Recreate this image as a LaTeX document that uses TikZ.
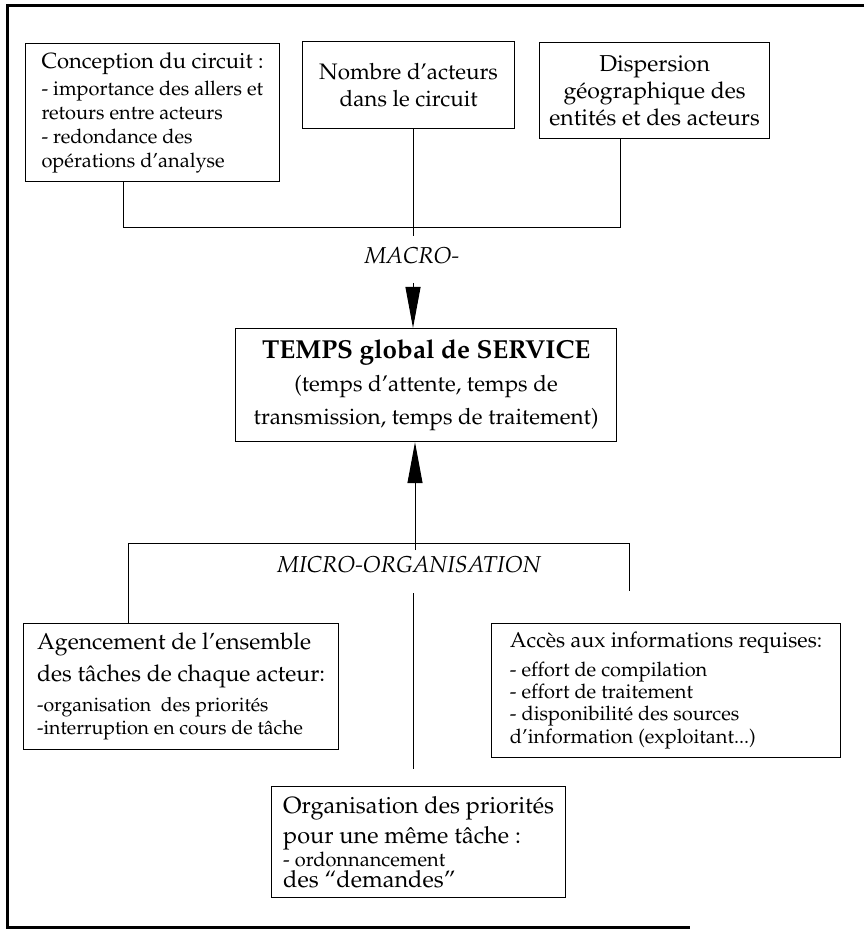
\documentclass[tikz,border=0pt]{standalone}
\usepackage[T1]{fontenc}
\renewcommand{\rmdefault}{ppl}
\usepackage{tikz}
\usetikzlibrary{arrows.meta}
\newcommand{\tl}[1]{\fontsize{#1}{14}\selectfont}
\tikzset{
  cadre/.style  = {line width=1.5pt},
  boite/.style  = {draw, line width=0.6pt, anchor=north west,
                   inner xsep=2.5pt, inner ysep=2pt, align=left},
  boitec/.style = {boite, align=center},
  etiq/.style   = {font=\itshape\fontsize{11.5}{13}\selectfont},
  lien/.style   = {line width=0.5pt},
  fleche/.style = {line width=0.5pt, -{Triangle[length=20.5pt, width=7.5pt]}},
}

\begin{document}
\begin{tikzpicture}[x=0.5pt, y=-0.5pt]
    \useasboundingbox (0,0) rectangle (864,930);
    \draw[cadre] (864,6) -| (7,927) -- (690,927);

    % niveau macro
    \node[boite, minimum width=127pt, minimum height=69pt,
          font=\fontsize{10}{12}\selectfont] (concep) at (25,43)
      {\tl{11}Conception du circuit :\\[1.5pt]
       \tl{10}- importance des allers et\\
       \tl{10}retours entre acteurs\\
       \tl{10}- redondance des\\
       \tl{10}op\'erations d'analyse};
    \node[boitec, minimum width=106pt, minimum height=43.5pt,
          font=\fontsize{11.2}{13.5}\selectfont] (nombre) at (302,41)
      {Nombre d'acteurs\\ dans le circuit};
    \node[boitec, minimum width=115pt, minimum height=48pt,
          font=\fontsize{11.5}{13.5}\selectfont] (disp) at (539,42)
      {Dispersion\\ g\'eographique des\\ entit\'es et des acteurs};

    \node[etiq] (macro) at (412,256) {MACRO-};

    % temps global
    \node[boitec, minimum width=190.5pt, minimum height=56.5pt,
          font=\fontsize{11.2}{16.5}\selectfont] (temps) at (235,328)
      {\bfseries\tl{13}TEMPS global de SERVICE\\
       \mdseries\tl{11.2}(temps d'attente, temps de\\
       \mdseries\tl{11.2}transmission, temps de traitement)};

    \node[etiq] (micro) at (409,565) {MICRO-ORGANISATION};

    % niveau micro
    \node[boite, minimum width=157.5pt, minimum height=63pt,
          font=\fontsize{9.75}{11.5}\selectfont] (agenc) at (23,623)
      {\tl{11.5}Agencement de l'ensemble\\[3.5pt]
       \tl{11.5}des t\^aches de chaque acteur:\\[3.5pt]
       \tl{9.75}-organisation\ \ des priorit\'es\\
       \tl{9.75}-interruption en cours de t\^ache};
    \node[boite, minimum width=174.5pt, minimum height=67pt,
          font=\fontsize{10}{11.2}\selectfont] (acces) at (491,623)
      {\tl{10.75}Acc\`es aux informations requises:\\[3pt]
       \tl{10}- effort de compilation\\
       \tl{10}- effort de traitement\\
       \tl{10}- disponibilit\'e des sources\\
       \tl{10}d'information (exploitant...)};
    \node[boite, minimum width=147pt, minimum height=55.5pt,
          font=\fontsize{10}{10.5}\selectfont] (organ) at (271,786)
      {\tl{11.75}Organisation des priorit\'es\\[2pt]
       \tl{11.75}pour une m\^eme t\^ache :\\
       \tl{10}- ordonnancement\\
       \tl{11.75}des ``demandes''};

    % liaisons haut
    \coordinate (jg) at (123,228);
    \coordinate (jd) at (620,228);
    \coordinate (jm) at (413,236);
    \draw[lien] (concep.south -| jg) -- (jg) -- (jd) -- (disp.south -| jd);
    \draw[lien] (nombre.south -| jm) -- (jm);
    \coordinate (pointe) at (413,283);
    \draw[fleche] (pointe) -- (pointe |- temps.north);

    % liaisons bas
    \coordinate (pied) at (415,550);
    \draw[fleche] (pied) -- (pied |- temps.south);
    \coordinate (kg) at (128,543);
    \coordinate (kd) at (629,543);
    \coordinate (kfin) at (629,591);
    \draw[lien] (agenc.north -| kg) -- (kg) -- (kd) -- (kfin);
    \coordinate (mh) at (413,593);
    \draw[lien, shorten >=8.5pt] (mh) -- (mh |- organ.north);
\end{tikzpicture}
\end{document}
